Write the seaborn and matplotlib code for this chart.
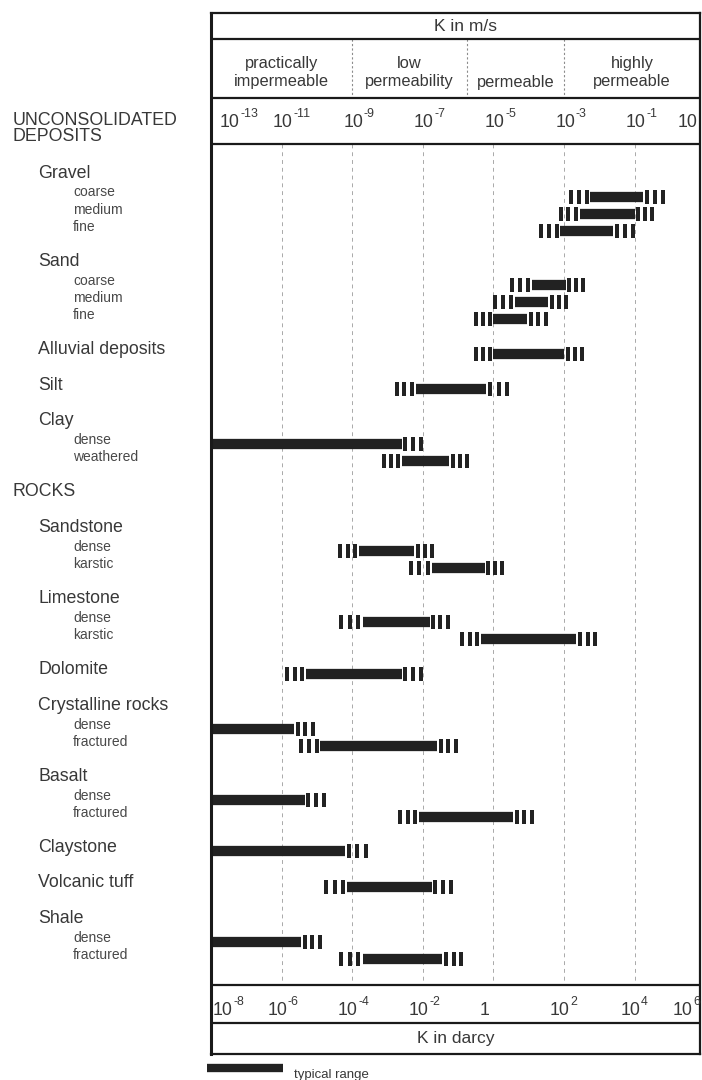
import numpy as np
import pandas as pd
import matplotlib
matplotlib.use("Agg")
import matplotlib.pyplot as plt
import matplotlib.transforms as mtransforms
import seaborn as sns

# ---------------------------------------------------------------
# Hydraulic conductivity of soils and rocks, log10(K in m/s)
# ---------------------------------------------------------------
row_labels = [
    "UNCONSOLIDATED\nDEPOSITS",
    "Gravel", "coarse", "medium", "fine",
    "Sand", "coarse", "medium", "fine",
    "Alluvial deposits",
    "Silt",
    "Clay", "dense", "weathered",
    "ROCKS",
    "Sandstone", "dense", "karstic",
    "Limestone", "dense", "karstic",
    "Dolomite",
    "Crystalline rocks", "dense", "fractured",
    "Basalt", "dense", "fractured",
    "Claystone",
    "Volcanic tuff",
    "Shale", "dense", "fractured",
]
row_kinds = [
    "section",
    "group", "sub", "sub", "sub",
    "group", "sub", "sub", "sub",
    "single",
    "single",
    "group", "sub", "sub",
    "section",
    "group", "sub", "sub",
    "group", "sub", "sub",
    "single",
    "group", "sub", "sub",
    "group", "sub", "sub",
    "single",
    "single",
    "group", "sub", "sub",
]

# one entry per drawn range (sub and single rows, top to bottom)
range_low = [-2.9, -3.2, -3.75, -4.6, -5.05, -5.6, -5.6, -7.85, -13.0, -8.2,
             -9.45, -7.45, -9.45, -6.0, -10.95, -13.0, -10.55, -13.0, -7.75,
             -13.0, -9.85, -13.0, -9.45]
typical_low = [-2.25, -2.55, -3.1, -3.9, -4.4, -5.0, -5.0, -7.2, -13.0, -7.6,
               -8.8, -6.75, -8.7, -5.35, -10.3, -13.0, -9.9, -13.0, -7.1,
               -13.0, -9.15, -13.0, -8.7]
typical_high = [-0.75, -1.0, -1.6, -2.95, -3.45, -4.05, -3.0, -5.2, -7.6, -6.25,
                -7.25, -5.25, -6.8, -2.65, -7.6, -10.65, -6.6, -10.35, -4.45,
                -9.2, -6.75, -10.45, -6.45]
range_high = [-0.1, -0.4, -0.95, -2.35, -2.85, -3.4, -2.4, -4.5, -6.95, -5.65,
              -6.65, -4.65, -6.2, -2.0, -6.95, -10.0, -5.95, -9.7, -3.8,
              -8.5, -6.1, -9.8, -5.8]

ms_exponents = [-13, -11, -9, -7, -5, -3, -1, 1]
darcy_exponents = [-8, -6, -4, -2, 0, 2, 4, 6]
darcy_offset = 5.0          # log10(darcy) = log10(K m/s) + 5

class_names = ["practically\nimpermeable", "low\npermeability", "permeable",
               "highly\npermeable"]
class_bounds = [-9.0, -5.75, -3.0]

# ---------------------------------------------------------------
sns.set_theme(style="white")
plt.rcParams["font.family"] = ["Liberation Sans", "DejaVu Sans"]

W, H = 702, 1080
fig = plt.figure(figsize=(W / 100, H / 100), dpi=100)
fig.patch.set_facecolor("white")

box_left, box_right, box_top, box_bottom = 211, 700, 13, 1054
ax = fig.add_axes([box_left / W, 1 - box_bottom / H,
                   (box_right - box_left) / W, (box_bottom - box_top) / H])
px_per_decade = 35.3
xmin = -13.0
xmax = xmin + (box_right - box_left) / px_per_decade
ax.set_facecolor("none")

ink = "#222222"
text_dark = "#383838"
text_sub = "#484848"

# row layout (y in pixels from the top of the page)
y_first = 121.0
row_y = []
y = y_first
prev = None
for lab, kind in zip(row_labels, row_kinds):
    if prev is not None:
        pkind, plab = prev
        if pkind == "section":
            y += 36 + 16 * (plab.count("\n"))
        elif pkind == "group":
            y += 19.5
        elif pkind == "sub":
            y += 17.3 if kind == "sub" else 34.2
        else:
            y += 35.5
    row_y.append(y)
    prev = (kind, lab)

trans_lab = mtransforms.blended_transform_factory(fig.transFigure, ax.transData)
label_x = {"section": 13, "group": 38, "single": 38, "sub": 73}
label_size = {"section": 12.8, "group": 12.8, "single": 12.8, "sub": 10}
for lab, kind, yy in zip(row_labels, row_kinds, row_y):
    yc = yy + (7.5 if "\n" in lab else 0)
    ax.text(label_x[kind] / W, yc, lab, transform=trans_lab, ha="left",
            va="center", fontsize=label_size[kind], linespacing=0.9,
            color=text_sub if kind == "sub" else text_dark, clip_on=False)

bar_y = [yy + 4 for yy, kind in zip(row_y, row_kinds) if kind in ("sub", "single")]

# typical ranges as thick horizontal segments
seg = pd.DataFrame({
    "row": np.repeat(np.arange(len(bar_y)), 2),
    "x": np.ravel(np.column_stack([typical_low, typical_high])),
    "y": np.repeat(bar_y, 2),
})
sns.lineplot(data=seg, x="x", y="y", units="row", estimator=None, sort=False,
             color=ink, linewidth=7.4, solid_capstyle="butt", legend=False, ax=ax)

# extended ranges as three short ticks on each side
ticks = []
for lo, tlo, thi, hi, yy in zip(range_low, typical_low, typical_high, range_high, bar_y):
    for a, b in ((lo, tlo), (thi, hi)):
        if b - a > 1e-6:
            w = (b - a) / 3
            for i in range(3):
                ticks.append((a + (i + 0.5) * w, yy))
tick_df = pd.DataFrame(ticks, columns=["x", "y"])
stroke = [(-0.17, -0.5), (0.17, -0.5), (0.17, 0.5), (-0.17, 0.5)]
sns.scatterplot(data=tick_df, x="x", y="y", marker=stroke, s=100, color=ink,
                linewidth=0, legend=False, ax=ax)

# frame rows
panel_top, panel_bottom = 144, 985
for yy in (39, 98, panel_top, panel_bottom, 1023):
    ax.axhline(yy, color="#1a1a1a", lw=1.6, zorder=3)
for s in ax.spines.values():
    s.set_visible(True)
    s.set_color("#1a1a1a")
    s.set_linewidth(1.6)
ax.spines["left"].set_linewidth(2.2)

# faint decade grid inside the data panel
grid_x = [e for e in ms_exponents if xmin < e < xmax - 0.5]
ax.vlines(grid_x, panel_top, panel_bottom, colors="#8c8c8c", lw=0.7,
          linestyles=(0, (4, 4)), alpha=0.75, zorder=0)
ax.vlines(class_bounds, 39, 98, colors="#8c8c8c", lw=0.8,
          linestyles=(0, (2, 2)), zorder=0)

# header
ax.text(-5.8, 26.5, "K in m/s", ha="center", va="center", fontsize=12.5, color=text_dark)
edges = [xmin] + class_bounds + [xmax]
for name, a, b in zip(class_names, edges[:-1], edges[1:]):
    if "\n" in name:
        ax.text((a + b) / 2, 72.5, name, ha="center", va="center", fontsize=11.8,
                linespacing=1.2, color=text_dark)
    else:
        ax.text((a + b) / 2, 83, name, ha="center", va="center", fontsize=11.8,
                color=text_dark)


def power_label(x, y, exponent, size=12.8):
    """Write 10 with a raised exponent, or the plain number for 0 and 1."""
    if exponent == 0:
        ax.text(x, y, "1", ha="left", va="baseline", fontsize=size, color=text_dark)
        return
    if exponent == 1:
        ax.text(x, y, "10", ha="left", va="baseline", fontsize=size, color=text_dark)
        return
    ax.text(x, y, "10", ha="left", va="baseline", fontsize=size, color=text_dark)
    ax.annotate("%d" % exponent, xy=(x, y), xytext=(size * 1.15, size * 0.55),
                textcoords="offset points", ha="left", va="baseline",
                fontsize=size * 0.7, color=text_dark, annotation_clip=False)


for e in ms_exponents:
    x0 = min(max(e - 0.25, xmin + 0.25), xmax - 0.62)
    power_label(x0, 127, e)

for d in darcy_exponents:
    e = d - darcy_offset
    x0 = min(max(e - 0.4, xmin + 0.05), xmax - 0.78)
    power_label(x0, 1015, d)

ax.text((xmin + xmax) / 2, 1038, "K in darcy", ha="center", va="center",
        fontsize=12.5, color=text_dark)

# key
ax.plot([207 / W, 283 / W], [1068, 1068], transform=trans_lab, color=ink,
        lw=6.0, solid_capstyle="butt", clip_on=False)
ax.text(294 / W, 1078, "typical range", transform=trans_lab, ha="left",
        va="baseline", fontsize=9.5, color=text_dark, clip_on=False)

ax.set_xlim(xmin, xmax)
ax.set_ylim(box_bottom, box_top)
ax.set_xticks([])
ax.set_yticks([])
ax.set_xlabel("")
ax.set_ylabel("")

fig.savefig("out.png", dpi=100, facecolor="white")
